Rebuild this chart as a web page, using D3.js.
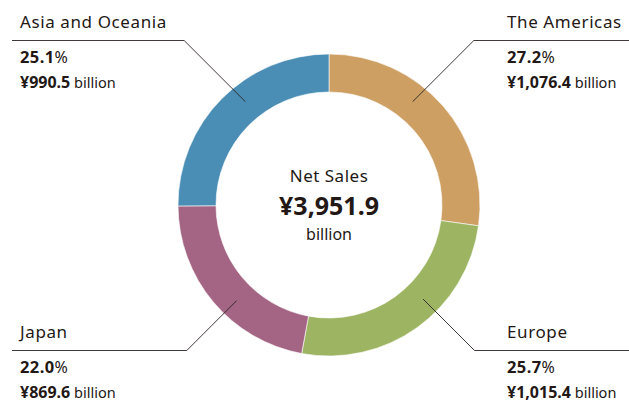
<!DOCTYPE html>
<html>
<head>
<meta charset="utf-8">
<script src="https://cdn.jsdelivr.net/npm/d3@7"></script>
<style>
  body { margin: 0; background: #fff; }
  svg { display: block; font-family: "Noto Sans", "Open Sans", sans-serif; }
  .lbl { fill: #231815; }
</style>
</head>
<body>
<svg width="629" height="401"></svg>
<script>
// net sales by region (billion yen), clockwise from top
const regions = ['The Americas', 'Europe', 'Japan', 'Asia and Oceania'];
const shares  = [27.2, 25.7, 22.0, 25.1];
const sales   = [1076.4, 1015.4, 869.6, 990.5];
const colors  = ['#cd9f63', '#9db563', '#a36583', '#4a8db5'];
const total   = 3951.9;

// label layout: side, top/bottom, leader angle (deg, clockwise from top)
const side   = ['right', 'right', 'left', 'left'];
const vpos   = ['top', 'bottom', 'bottom', 'top'];
const lAngle = [39, 135, 224, 321];

let svg = d3.select('svg');
let W = +svg.attr('width');

let cx = 329, cy = 205, rOut = 151, rIn = 113;

let g = svg.append('g').attr('transform', 'translate(' + cx + ',' + cy + ')');

let data = regions.map((r, i) => ({ name: r, share: shares[i], sales: sales[i], i: i }));

let pie = d3.pie().sort(null).value(d => d.share);
let arc = d3.arc().innerRadius(rIn).outerRadius(rOut);

g.selectAll('path')
  .data(pie(data))
  .enter().append('path')
  .attr('d', arc)
  .attr('fill', d => colors[d.data.i])
  .attr('stroke', '#fff')
  .attr('stroke-width', 0.6);

// center text
g.append('text').attr('class', 'lbl').attr('text-anchor', 'middle').attr('y', -23)
  .style('font-size', '17px').style('letter-spacing', '0.5px').text('Net Sales');
g.append('text').attr('class', 'lbl').attr('text-anchor', 'middle').attr('y', 10)
  .style('font-size', '25px').style('font-weight', 'bold')
  .text('¥' + d3.format(',.1f')(total));
g.append('text').attr('class', 'lbl').attr('text-anchor', 'middle').attr('y', 35)
  .style('font-size', '16px').text('billion');

// leader lines + labels
let rMid = (rIn + rOut) / 2 + 1;
data.forEach((d, i) => {
  let a = lAngle[i] * Math.PI / 180;
  let px = cx + rMid * Math.sin(a), py = cy - rMid * Math.cos(a);
  let ly = vpos[i] === 'top' ? 40.5 : 350.5;
  let dy = Math.abs(py - ly);
  let kx = side[i] === 'right' ? px + dy : px - dy;
  let ex = side[i] === 'right' ? W : 12;

  svg.append('polyline')
    .attr('points', [[px, py], [kx, ly], [ex, ly]].map(p => p.join(',')).join(' '))
    .attr('fill', 'none')
    .attr('stroke', '#2a2522')
    .attr('stroke-width', 0.9);

  let tx = side[i] === 'right' ? 507 : 20;
  svg.append('text').attr('class', 'lbl').attr('x', tx).attr('y', ly - 13)
    .style('font-size', '17px').style('letter-spacing', '0.6px').text(d.name);

  let t1 = svg.append('text').attr('class', 'lbl').attr('x', tx).attr('y', ly + 22);
  t1.append('tspan').style('font-size', '16.5px').style('font-weight', 'bold')
    .style('letter-spacing', '0.4px').text(d.share.toFixed(1));
  t1.append('tspan').style('font-size', '16px').text('%');

  let t2 = svg.append('text').attr('class', 'lbl').attr('x', tx).attr('y', ly + 47);
  t2.append('tspan').style('font-size', '16px').style('font-weight', 'bold')
    .text('¥' + d3.format(',.1f')(d.sales));
  t2.append('tspan').style('font-size', '14.5px').text(' billion');
});
</script>
</body>
</html>
